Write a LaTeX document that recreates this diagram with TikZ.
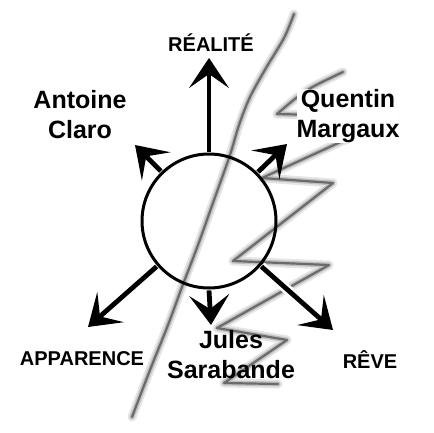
\documentclass[tikz,border=0pt]{standalone}
\usepackage{fontspec}
\setmainfont{Liberation Sans}
\usetikzlibrary{arrows.meta}

\begin{document}
\begin{tikzpicture}[x=1pt,y=-1pt,->,>={Stealth[length=30pt,width=40pt,inset=14pt]},line width=4.8pt,
    name node/.style={font=\bfseries\fontsize{25}{30}\selectfont,align=center,inner sep=0pt},
    pole node/.style={font=\bfseries\fontsize{20}{24}\selectfont,anchor=base,inner sep=0pt},
    blur/.style={-,line width=9pt,black!10,line join=round,line cap=round},
    haze/.style={-,line width=5pt,black!25,line join=round,line cap=round},
    trace/.style={-,line width=2.2pt,black!58,line join=round,line cap=round},
    halo/.style={-,line width=10pt,white}]
    \useasboundingbox (0,0) rectangle (433,433);

    \foreach \s in {blur,haze,trace}{
        \draw[\s] plot[smooth] coordinates {(294,14) (284,38) (266,68) (250,97) (239,125) (230,155)
            (214,200) (198,245) (182,287) (168,325) (150,370) (132,417)};
        \draw[\s] (343,72) .. controls (305,90) .. (277,114) -- (395,117) -- (262,178) -- (333,183)
            -- (233,261) -- (329,265) -- (217,328) -- (287,340) -- (224,383) -- (278,384);
    }

    \node[circle,minimum size=134pt,inner sep=0pt] (c) at (209,221) {};

    \coordinate (n) at (209,58);
    \coordinate (nw) at (135,145);
    \coordinate (ne) at (287,144);
    \coordinate (sw) at (88,327);
    \coordinate (s) at (211,325);
    \coordinate (se) at (333,330);

    \foreach \a/\t in {90/n,134/nw,45/ne,221/sw,270/s,319/se}
        \draw[halo] (c.\a) -- (\t);
    \draw[-,line width=3pt] (c.center) circle[radius=67pt];

    \path
        (c.90) edge (n)
        (c.134) edge (nw)
        (c.45) edge (ne)
        (c.221) edge (sw)
        (c.270) edge (s)
        (c.319) edge (se)
    ;

    \node[pole node] (reel) at (211,52) {RÉALITÉ};
    \node[pole node] (apparence) at (82,365) {APPARENCE};
    \node[pole node] (reve) at (370,368) {RÊVE};
    \node[name node] (antoine) at (80,115) {Antoine\\Claro};
    \node[name node,fill=white] (quentin) at (348,116) {Quentin\\Margaux};
    \node[name node] (jules) at (231,355) {Jules\\Sarabande};

\end{tikzpicture}
\end{document}
